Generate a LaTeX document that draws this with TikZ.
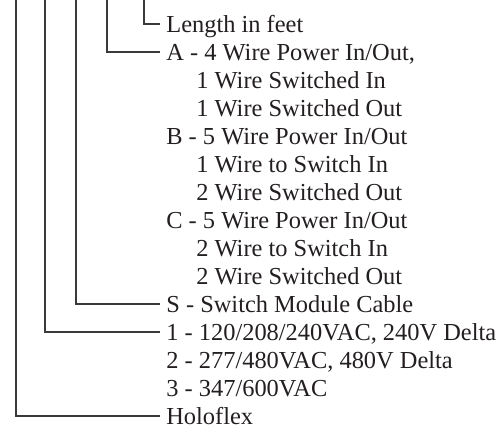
\documentclass[tikz,border=0pt]{standalone}
\usepackage{fontspec}
\setmainfont{Liberation Serif}
\usepackage{tikz}
\definecolor{clinea}{HTML}{3A3A3A}
\definecolor{ctexto}{HTML}{231F20}
\tikzset{
  linea/.style={draw=clinea, line width=1.1pt},
  rotulo/.style={anchor=west, inner xsep=0.12cm, inner ysep=0pt,
    text height=9.2pt, text depth=0pt, text=ctexto,
    font=\fontsize{13.9}{16}\selectfont},
}
\begin{document}
\begin{tikzpicture}[x=0.02cm, y=-0.02cm]
  \useasboundingbox (0,0) rectangle (501,428);
  \coordinate (t1) at (16,0);
  \coordinate (t2) at (45,0);
  \coordinate (t3) at (76,0);
  \coordinate (t4) at (107,0);
  \coordinate (t5) at (144,0);
  \node[rotulo] (len) at (160,24) {Length in feet};
  \node[rotulo] (a) at (160,52) {A - 4 Wire Power In/Out,};
  \node[rotulo] (a2) at (190,80) {1 Wire Switched In};
  \node[rotulo] (a3) at (190,108) {1 Wire Switched Out};
  \node[rotulo] (b) at (160,136) {B - 5 Wire Power In/Out};
  \node[rotulo] (b2) at (190,164) {1 Wire to Switch In};
  \node[rotulo] (b3) at (190,192) {2 Wire Switched Out};
  \node[rotulo] (c) at (160,220) {C - 5 Wire Power In/Out};
  \node[rotulo] (c2) at (190,248) {2 Wire to Switch In};
  \node[rotulo] (c3) at (190,276) {2 Wire Switched Out};
  \node[rotulo] (s) at (160,304) {S - Switch Module Cable};
  \node[rotulo] (v1) at (160,332) {1 - 120/208/240VAC, 240V Delta};
  \node[rotulo] (v2) at (160,360) {2 - 277/480VAC, 480V Delta};
  \node[rotulo] (v3) at (160,388) {3 - 347/600VAC};
  \node[rotulo] (holo) at (160,416) {Holoflex};
  \draw[linea] (t5) |- (len.west);
  \draw[linea] (t4) |- (a.west);
  \draw[linea] (t3) |- (s.west);
  \draw[linea] (t2) |- (v1.west);
  \draw[linea] (t1) |- (holo.west);
\end{tikzpicture}
\end{document}
